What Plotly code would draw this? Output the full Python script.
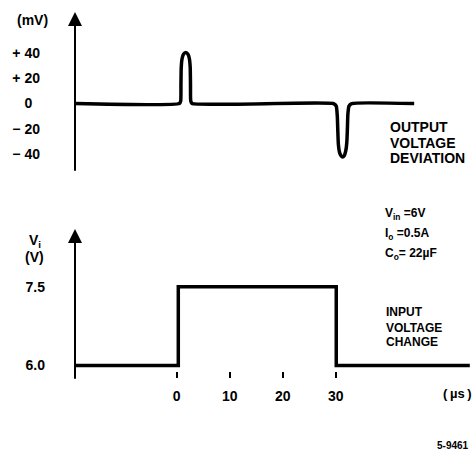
import plotly.graph_objects as go

# ---------------- data ----------------
# Output voltage deviation (mV) vs time (µs)
out_t = [-19.2, 0.5, 0.75, 0.8, 0.85, 1.0, 1.25, 1.7, 2.15, 2.4, 2.55, 2.6, 2.65, 2.9,
         29.6, 30.1, 30.3, 30.4, 30.5, 30.7, 31.0, 31.3, 31.6, 31.9, 32.1, 32.2, 32.3, 32.5, 33.0, 44.8]
out_mv = [0, 0, 2, 15, 28, 35, 38.5, 40, 38.5, 35, 28, 15, 2, 0,
          0, -2, -10, -22, -32, -38, -41, -42, -41, -37, -30, -20, -8, -2, 0, 0]

# Input voltage (V) vs time (µs)
in_t = [-19.2, 0.3, 0.3, 30.1, 30.1, 55.3]
in_v = [6.0, 6.0, 7.5, 7.5, 6.0, 6.0]

out_tickvals = [40, 20, 0, -20, -40]
out_ticktext = ["+ 40", "+ 20", "0\u00a0\u00a0", "\u2212 20", "\u2212 40"]
in_tickvals = [7.5, 6.0]
in_ticktext = ["7.5", "6.0"]
t_tickvals = [0, 10, 20, 30]
t_ticktext = ["0", "10", "20", "30"]

W, H = 473, 458
FONT = "Liberation Sans"


def py(px):
    return 1 - px / H


def pxx(px):
    return px / W


XR = [-19.19, 55.9]
XDOM = [75 / W, 1]

fig = go.Figure()
fig.add_trace(go.Scatter(x=out_t, y=out_mv, mode="lines", xaxis="x", yaxis="y",
                         line=dict(color="black", width=3.5, shape="spline", smoothing=0.5)))
fig.add_trace(go.Scatter(x=in_t, y=in_v, mode="lines", xaxis="x2", yaxis="y2",
                         line=dict(color="black", width=3.5)))

TOP_R = [-53.9, 71.9]
BOT_R = [5.886, 8.601]

fig.update_layout(
    width=W, height=H, margin=dict(l=0, r=0, t=0, b=0),
    paper_bgcolor="white", plot_bgcolor="white", showlegend=False,
    font=dict(family=FONT, size=14, color="black", weight="bold"),
    xaxis=dict(domain=XDOM, range=XR, visible=False, anchor="y", fixedrange=True),
    yaxis=dict(domain=[py(173), py(12)], range=TOP_R, anchor="x",
               tickvals=out_tickvals, ticktext=out_ticktext, ticks="",
               showgrid=False, zeroline=False, showline=False, ticklabelstandoff=34),
    xaxis2=dict(domain=XDOM, range=XR, anchor="y2",
                tickvals=t_tickvals, ticktext=t_ticktext, ticks="outside",
                ticklen=6, tickwidth=2, tickcolor="black",
                showgrid=False, zeroline=False, showline=False, ticklabelstandoff=6),
    yaxis2=dict(domain=[py(373), py(230)], range=BOT_R, anchor="x2",
                tickvals=in_tickvals, ticktext=in_ticktext, ticks="",
                showgrid=False, zeroline=False, showline=False, ticklabelstandoff=29),
)

anns = []
# axis arrows
anns.append(dict(x=XR[0], y=TOP_R[1], xref="x", yref="y", ax=XR[0], ay=TOP_R[0],
                 axref="x", ayref="y", text="", showarrow=True, arrowhead=2,
                 arrowsize=1.4, arrowwidth=2, arrowcolor="black"))
anns.append(dict(x=XR[0], y=BOT_R[1], xref="x2", yref="y2", ax=XR[0], ay=5.715,
                 axref="x2", ayref="y2", text="", showarrow=True, arrowhead=2,
                 arrowsize=1.4, arrowwidth=2, arrowcolor="black"))


def txt(text, x, y, size=14, xanchor="left"):
    anns.append(dict(text=text, x=pxx(x), y=py(y), xref="paper", yref="paper",
                     xanchor=xanchor, yanchor="middle", showarrow=False,
                     font=dict(size=size, family=FONT, color="black", weight="bold")))


txt("(mV)", 32, 20, 14, "center")
txt("V<sub>i</sub>", 27, 242, 14)
txt("(V)", 34, 258, 14, "center")
txt("OUTPUT", 388, 128, 14)
txt("VOLTAGE", 388, 144, 14)
txt("DEVIATION", 388, 159, 14)
txt("V<sub>in</sub> =6V", 383, 215, 12)
txt("I<sub>o</sub> =0.5A", 383, 235, 12)
txt("C<sub>o</sub>= 22µF", 383, 255, 12)
txt("INPUT", 384, 313, 12)
txt("VOLTAGE", 384, 329, 12)
txt("CHANGE", 384, 344, 12)
txt("(\u2009µs\u2009)", 457, 395, 13, "center")
txt("5-9461", 471, 447, 10, "right")

fig.update_layout(annotations=anns)
fig.write_html("out.html", config={"displayModeBar": False},
               post_script="document.body.style.margin='0px';")
